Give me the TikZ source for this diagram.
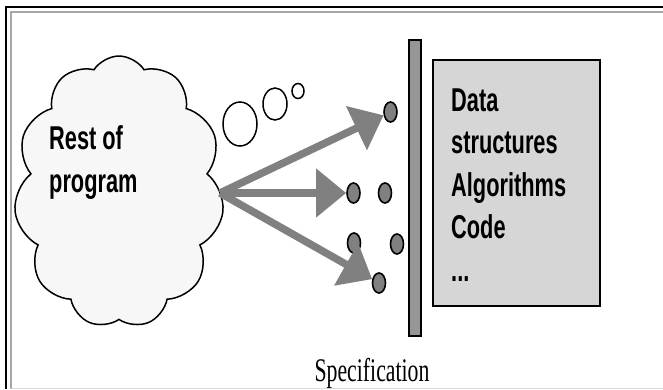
\documentclass[tikz,border=0pt]{standalone}
\usepackage{fontspec}
\setmainfont{Liberation Sans}
\newfontfamily\narrowsans{Liberation Sans}[FakeStretch=0.66]
\newfontfamily\narrowserif{Liberation Serif}[FakeStretch=0.66]
\usetikzlibrary{shapes.symbols,shapes.geometric,arrows.meta,positioning}
\definecolor{arrowgray}{RGB}{128,128,128}
\definecolor{boxgray}{RGB}{214,214,214}
\definecolor{bargray}{RGB}{150,150,150}
\tikzset{
  spot/.style={ellipse, draw=black, line width=1.6pt, fill=arrowgray, minimum width=13pt, minimum height=20pt, inner sep=0pt},
  fatarrow/.style={draw=arrowgray, line width=7.5pt, -{Triangle[length=30pt,width=47pt]}},
  labeltext/.style={font=\narrowsans\bfseries\fontsize{33}{42.5}\selectfont, align=left, inner sep=0pt},
  bubble/.style={draw=black, line width=1.5pt, fill=white},
}
\begin{document}
\begin{tikzpicture}[x=1pt,y=-1pt]
\useasboundingbox (0,0) rectangle (663,389);
% Rahmen der Seite, rechts und unten abgeschnitten
\draw[line width=2pt] (6,389) -- (6,7) -- (663,7);
\draw[gray!70, line width=1.6pt] (11,389) -- (11,12) -- (663,12);
\draw[gray!30, line width=1pt] (11,388) -- (663,388);

% Wolke mit Denkblasen
\node[cloud, cloud puffs=11, cloud puff arc=115, cloud ignores aspect, draw, line width=1.5pt,
      fill=white!97!black, minimum width=210pt, minimum height=272pt] (prog) at (119,192) {};
% base = letzte Zeile
\node[labeltext, anchor=base west] (progtext) at (49,192) {Rest of\\program};
\draw[bubble] (240,124) ellipse [x radius=17pt, y radius=22pt];
\draw[bubble] (275,104) ellipse [x radius=12pt, y radius=16pt];
\draw[bubble] (298,91) ellipse [x radius=6pt, y radius=7.5pt];

% Schnittstelle und Implementierung
\draw[fill=bargray, line width=1.8pt] (409,40) rectangle (421,336);
\draw[fill=boxgray, line width=2pt] (433,60) rectangle (600,306);
\node[labeltext, anchor=base west] (impl) at (451,281) {Data\\structures\\Algorithms\\Code\\...};
\node[font=\narrowserif\fontsize{33}{40}\selectfont, anchor=base] (speclabel) at (372,381) {Specification};

% Zugriffspunkte
\node[spot] (d1) at (390.5,112) {};
\node[spot] (d2) at (353.5,193) {};
\node[spot] (d3) at (385,193) {};
\node[spot] (d4) at (354,243) {};
\node[spot] (d5) at (397,244) {};
\node[spot] (d6) at (379,283) {};

\coordinate (src) at (220,193);
\draw[fatarrow] (src) -- (d1);
\draw[fatarrow] (src) -- (d2);
\draw[fatarrow] (src) -- (d6);
\end{tikzpicture}
\end{document}
